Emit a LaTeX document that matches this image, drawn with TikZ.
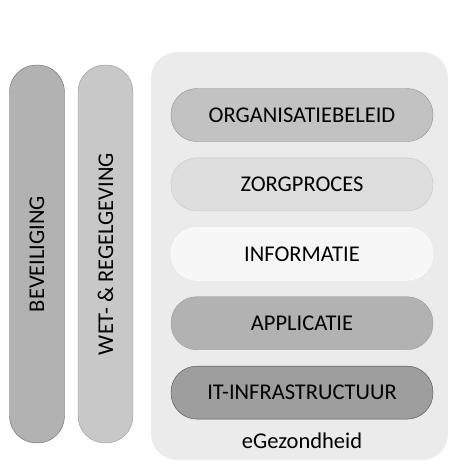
\documentclass[tikz,border=0pt]{standalone}
\usepackage{fontspec}
\setmainfont{Carlito}
\usetikzlibrary{positioning}

\definecolor{orggray}{gray}{0.76}
\definecolor{zorggray}{gray}{0.87}
\definecolor{infogray}{gray}{0.97}
\definecolor{appgray}{gray}{0.70}
\definecolor{infragray}{gray}{0.62}
\definecolor{ehgray}{gray}{0.92}

\tikzset{
  layer/.style={rectangle, rounded corners=26pt, minimum width=262pt,
    minimum height=53pt, inner sep=0pt, font=\fontsize{22.5}{24}\selectfont},
  pillar/.style={rectangle, rounded corners=27pt, rotate=90, minimum width=378pt,
    minimum height=55pt, inner sep=0pt, font=\fontsize{22.5}{24}\selectfont},
}

\begin{document}
\begin{tikzpicture}[x=1pt,y=-1pt]
\useasboundingbox (0,0) rectangle (451,464);

% eGezondheid field behind the layers
\node[rectangle, rounded corners=26pt, fill=ehgray, minimum width=297pt,
  minimum height=408pt] (eh) at (299.5,256) {};

% the layers, top to bottom
\node[layer, fill=orggray, draw=gray!90] (org) at (302,115) {ORGANISATIEBELEID};
\node[layer, fill=zorggray, draw=gray!45, below=16pt of org] (zorg) {ZORGPROCES};
\node[layer, fill=infogray, draw=white, below=16pt of zorg] (info) {INFORMATIE};
\node[layer, fill=appgray, draw=gray!80, below=16pt of info] (app) {APPLICATIE};
\node[layer, fill=infragray, draw=black!70, below=16pt of app] (infra) {IT-INFRASTRUCTUUR};
\node[font=\fontsize{22.5}{24}\selectfont, below=10pt of infra] (ehlabel) {eGezondheid};

% pillars on the left
\node[pillar, fill=appgray, draw=black!60] (sec) at (37,254) {BEVEILIGING};
\node[pillar, fill=zorggray!90!black, draw=gray!80] (law) at (105.5,254) {WET- \& REGELGEVING};
\end{tikzpicture}
\end{document}
